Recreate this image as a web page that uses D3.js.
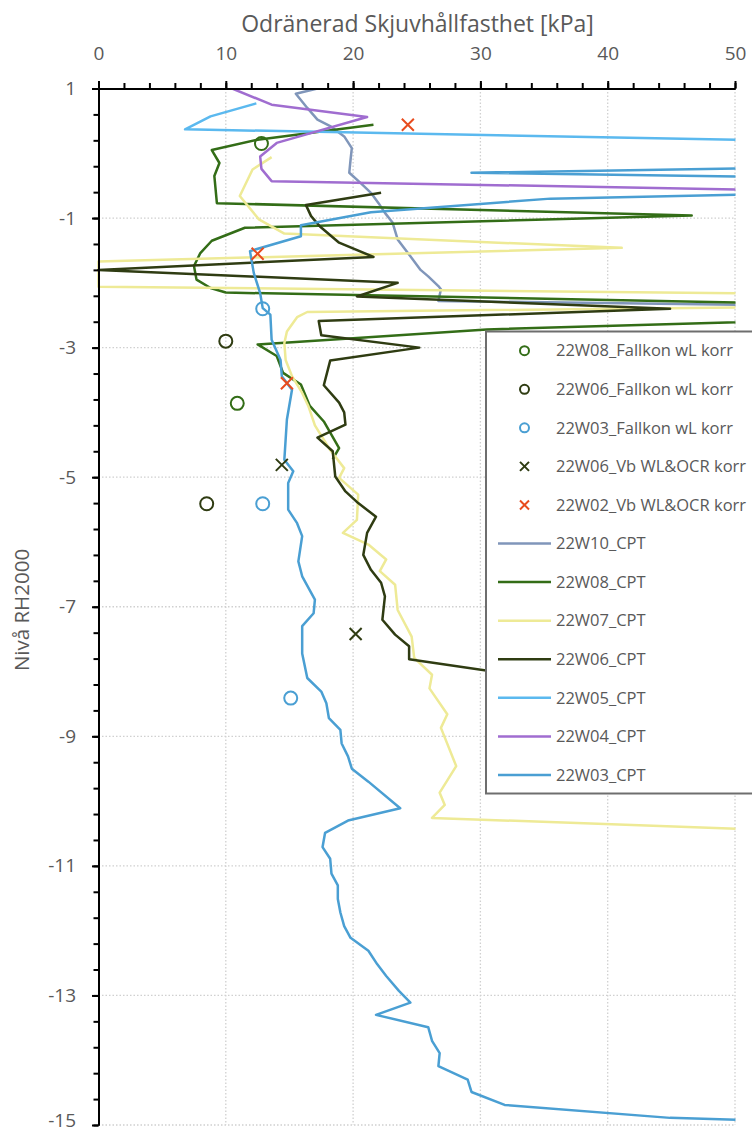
<!DOCTYPE html>
<html>
<head>
<meta charset="utf-8">
<script src="https://cdn.jsdelivr.net/npm/d3@7"></script>
<style>
  body { margin: 0; background: #fff; }
  text { font-family: "Open Sans", sans-serif; fill: #595959; }
</style>
</head>
<body>
<svg id="chart" width="752" height="1135"></svg>
<script>
// every point is [skjuvhållfasthet kPa, nivå RH2000]
const fallkon22W08 = [[12.8, 0.15], [10.9, -3.86]];
const fallkon22W06 = [[10.0, -2.90], [8.5, -5.41]];
const fallkon22W03 = [[12.9, -2.40], [12.9, -5.41], [15.1, -8.41]];
const vb22W06 = [[14.4, -4.81], [20.2, -7.42]];
const vb22W02 = [[24.3, 0.44], [12.5, -1.55], [14.8, -3.55]];

const cpt22W10 = [
  [17.2, 1.0], [15.5, 0.92], [16.4, 0.70], [17.2, 0.52], [18.2, 0.42], [19.3, 0.26],
  [19.9, 0.08], [19.8, -0.10], [19.7, -0.30], [20.6, -0.46], [21.4, -0.61], [22.0, -0.77],
  [22.5, -0.92], [23.1, -1.07], [23.5, -1.33], [24.5, -1.59], [25.3, -1.80], [25.9, -1.90],
  [26.7, -2.05], [26.9, -2.10], [26.7, -2.28], [55, -2.35]
];
const cpt22W08 = [
  [21.6, 0.44], [12.5, 0.21], [8.9, 0.05], [9.5, -0.15], [9.1, -0.35], [9.3, -0.77],
  [46.6, -0.96], [11.5, -1.15], [8.9, -1.35], [8.0, -1.54], [7.5, -1.74], [7.7, -1.95],
  [8.8, -2.08], [10.0, -2.15], [60, -2.34], [60, -2.55], [30.5, -2.72], [12.5, -2.95],
  [14.0, -3.13], [14.5, -3.39], [15.9, -3.57], [16.6, -3.90], [17.7, -4.14], [18.9, -4.55],
  [18.4, -4.72]
];
const cpt22W07 = [
  [13.6, -0.06], [12.1, -0.25], [11.1, -0.66], [12.6, -1.02], [14.6, -1.24], [41.1, -1.46],
  [0, -1.67], [0, -2.06], [60, -2.18], [60, -2.36], [16.4, -2.45], [15.6, -2.53],
  [14.8, -2.75], [14.6, -2.93], [14.7, -3.19], [15.2, -3.44], [16.0, -3.70], [16.5, -3.91],
  [17.0, -4.20], [18.2, -4.58], [19.3, -4.86], [18.9, -5.01], [20.4, -5.27], [20.3, -5.66],
  [19.2, -5.86], [21.2, -6.04], [22.6, -6.27], [22.1, -6.45], [23.3, -6.66], [23.5, -7.05],
  [24.6, -7.46], [24.8, -7.79], [26.2, -8.05], [26.0, -8.26], [27.4, -8.66], [26.9, -8.87],
  [28.1, -9.46], [26.8, -9.87], [27.2, -10.06], [26.2, -10.26], [55, -10.46]
];
const cpt22W06 = [
  [22.2, -0.61], [16.3, -0.80], [16.7, -0.97], [17.4, -1.13], [18.9, -1.38], [21.6, -1.60],
  [0, -1.80], [23.5, -2.00], [20.3, -2.21], [44.9, -2.40], [17.3, -2.59], [17.5, -2.81],
  [25.2, -3.00], [18.2, -3.20], [17.7, -3.58], [18.9, -3.85], [19.3, -4.00], [19.4, -4.19],
  [17.2, -4.39], [18.4, -4.60], [18.6, -4.99], [19.4, -5.22], [20.4, -5.40], [21.8, -5.61],
  [21.1, -5.86], [20.8, -6.20], [21.4, -6.43], [22.2, -6.63], [22.5, -6.84], [22.3, -7.20],
  [23.3, -7.43], [24.4, -7.61], [24.4, -7.81], [42, -8.32]
];
const cpt22W05 = [[12.4, 0.77], [8.8, 0.57], [6.8, 0.37], [55, 0.19]];
const cpt22W04 = [
  [10.5, 1.0], [13.6, 0.75], [21.1, 0.56], [14.0, 0.16], [12.7, -0.05], [12.8, -0.24],
  [13.6, -0.43], [55, -0.575]
];
const cpt22W03 = [
  [58, -0.21], [29.3, -0.30], [58, -0.38], [60, -0.60], [35.5, -0.70], [21.4, -0.91],
  [15.9, -1.11], [15.9, -1.28], [11.9, -1.51], [12.2, -1.85], [12.7, -2.16], [12.9, -2.39],
  [13.5, -2.49], [13.6, -2.88], [14.3, -3.19], [14.4, -3.44], [15.2, -3.65], [14.8, -4.11],
  [14.7, -4.42], [14.6, -4.73], [15.3, -4.91], [14.9, -5.09], [14.9, -5.50], [15.6, -5.71],
  [16.0, -5.91], [15.7, -6.30], [16.0, -6.53], [17.0, -6.89], [16.9, -7.10], [16.0, -7.30],
  [16.0, -7.72], [16.4, -8.10], [17.5, -8.31], [17.9, -8.49], [18.1, -8.72], [19.0, -8.90],
  [19.1, -9.11], [19.6, -9.31], [19.9, -9.50], [21.2, -9.70], [23.7, -10.11], [19.6, -10.30],
  [17.8, -10.49], [17.6, -10.71], [18.2, -10.89], [18.3, -11.12], [18.8, -11.30], [18.8, -11.51],
  [19.0, -11.72], [19.3, -11.93], [19.8, -12.11], [21.2, -12.31], [21.9, -12.52], [22.6, -12.70],
  [23.6, -12.93], [24.5, -13.11], [21.8, -13.30], [25.9, -13.49], [26.2, -13.70], [26.8, -13.89],
  [26.7, -14.09], [29.0, -14.30], [29.3, -14.49], [31.9, -14.69], [44.9, -14.89], [50.5, -14.92]
];

const xTicks = [0, 10, 20, 30, 40, 50];
const yTicks = [1, -1, -3, -5, -7, -9, -11, -13, -15];

const series = [
  { name: '22W08_Fallkon wL korr', data: fallkon22W08, color: '#336d17', kind: 'circle' },
  { name: '22W06_Fallkon wL korr', data: fallkon22W06, color: '#2f3c12', kind: 'circle' },
  { name: '22W03_Fallkon wL korr', data: fallkon22W03, color: '#4a9fd3', kind: 'circle' },
  { name: '22W06_Vb WL&OCR korr', data: vb22W06, color: '#2f3c12', kind: 'cross' },
  { name: '22W02_Vb WL&OCR korr', data: vb22W02, color: '#e84c1e', kind: 'cross' },
  { name: '22W10_CPT', data: cpt22W10, color: '#8096ba', kind: 'line' },
  { name: '22W08_CPT', data: cpt22W08, color: '#336d17', kind: 'line' },
  { name: '22W07_CPT', data: cpt22W07, color: '#eeea96', kind: 'line' },
  { name: '22W06_CPT', data: cpt22W06, color: '#2f3c12', kind: 'line' },
  { name: '22W05_CPT', data: cpt22W05, color: '#5bb9ef', kind: 'line' },
  { name: '22W04_CPT', data: cpt22W04, color: '#a06dd0', kind: 'line' },
  { name: '22W03_CPT', data: cpt22W03, color: '#4a9fd3', kind: 'line' }
];

const svg = d3.select('#chart');
svg.append('rect').attr('width', 752).attr('height', 1135).attr('fill', '#fff');

const x = d3.scaleLinear().domain([0, 50]).range([98.5, 735]);
const y = d3.scaleLinear().domain([1, -15]).range([88.5, 1125]);

// dotted grid
const grid = svg.append('g').attr('class', 'grid')
  .attr('stroke', '#d0d0d0').attr('stroke-width', 1.3).attr('stroke-dasharray', '1.5 2');
grid.selectAll('.gx').data(xTicks.slice(1)).enter().append('line')
  .attr('x1', d => x(d)).attr('x2', d => x(d))
  .attr('y1', y(1)).attr('y2', y(-15));
grid.selectAll('.gy').data(yTicks.slice(1)).enter().append('line')
  .attr('x1', x(0)).attr('x2', x(50))
  .attr('y1', d => y(d)).attr('y2', d => y(d));

svg.append('clipPath').attr('id', 'plot-clip')
  .append('rect')
  .attr('x', x(0) - 2).attr('y', y(1))
  .attr('width', x(50) - x(0) + 2.5).attr('height', y(-15) - y(1));

const plot = svg.append('g').attr('clip-path', 'url(#plot-clip)');

function drawMarker(g, kind, color, r) {
  if (kind === 'circle') {
    g.append('circle').attr('r', r).attr('fill', 'none')
      .attr('stroke', color).attr('stroke-width', 2);
  } else {
    const s = r;
    g.append('path').attr('d', `M${-s},${-s}L${s},${s}M${-s},${s}L${s},${-s}`)
      .attr('stroke', color).attr('stroke-width', 2).attr('fill', 'none');
  }
}

const line = d3.line().x(d => x(d[0])).y(d => y(d[1]));

// lines first, scatter markers on top
series.filter(s => s.kind === 'line').forEach(s => {
  plot.append('path').datum(s.data)
    .attr('d', line)
    .attr('fill', 'none')
    .attr('stroke', s.color)
    .attr('stroke-width', 2.5)
    .attr('stroke-linejoin', 'round');
});
series.filter(s => s.kind !== 'line').forEach(s => {
  plot.selectAll(null).data(s.data).enter().append('g')
    .attr('transform', d => `translate(${x(d[0])},${y(d[1])})`)
    .each(function() { drawMarker(d3.select(this), s.kind, s.color, s.kind === 'circle' ? 6.5 : 6); });
});

// axes
const fmt = d => String(d);
const xMinor = svg.append('g').attr('transform', `translate(0,${y(1)})`)
  .call(d3.axisTop(x).tickValues(d3.range(0, 50.1, 2)).tickSize(5.5).tickSizeOuter(0).tickFormat(''));
const xAxis = svg.append('g').attr('transform', `translate(0,${y(1)})`)
  .call(d3.axisTop(x).tickValues(xTicks).tickSize(7.5).tickSizeOuter(0).tickPadding(21).tickFormat(fmt));
const yMinor = svg.append('g').attr('transform', `translate(${x(0)},0)`)
  .call(d3.axisLeft(y).tickValues(d3.range(1, -15.01, -0.4)).tickSize(5).tickSizeOuter(0).tickFormat(''));
const yAxis = svg.append('g').attr('transform', `translate(${x(0)},0)`)
  .call(d3.axisLeft(y).tickValues(yTicks).tickSize(6.5).tickSizeOuter(0).tickPadding(16).tickFormat(fmt));

[xMinor, xAxis, yMinor, yAxis].forEach(a => {
  a.selectAll('path, line').attr('stroke', '#000').attr('stroke-width', 2);
  a.selectAll('text').attr('font-size', 19).attr('fill', '#595959')
    .attr('font-family', '"Open Sans", sans-serif');
});
// bottom label sits on the page edge, lift it a little
yAxis.selectAll('.tick text').filter(d => d === -15).attr('dy', '0.1em');

svg.append('text')
  .attr('x', 417.5).attr('y', 32)
  .attr('text-anchor', 'middle')
  .attr('font-size', 23)
  .text('Odränerad Skjuvhållfasthet [kPa]');

svg.append('text')
  .attr('transform', 'translate(29,610) rotate(-90)')
  .attr('text-anchor', 'middle')
  .attr('font-size', 20.5)
  .text('Nivå RH2000');

// legend
const legend = svg.append('g').attr('transform', 'translate(486,331.5)');
legend.append('rect')
  .attr('width', 300).attr('height', 462)
  .attr('fill', '#fff').attr('stroke', '#6e6e6e').attr('stroke-width', 2);

const items = legend.selectAll('.item').data(series).enter().append('g')
  .attr('transform', (d, i) => `translate(0,${19.2 + i * 38.57})`);

items.each(function(d) {
  const g = d3.select(this);
  if (d.kind === 'line') {
    g.append('line').attr('x1', 12).attr('x2', 65)
      .attr('stroke', d.color).attr('stroke-width', 2.5);
  } else {
    const m = g.append('g').attr('transform', 'translate(38.5,0)');
    drawMarker(m, d.kind, d.color, 4.5);
  }
  g.append('text').attr('x', 70).attr('dy', '0.35em')
    .attr('font-size', 16.5).text(d.name);
});
</script>
</body>
</html>
